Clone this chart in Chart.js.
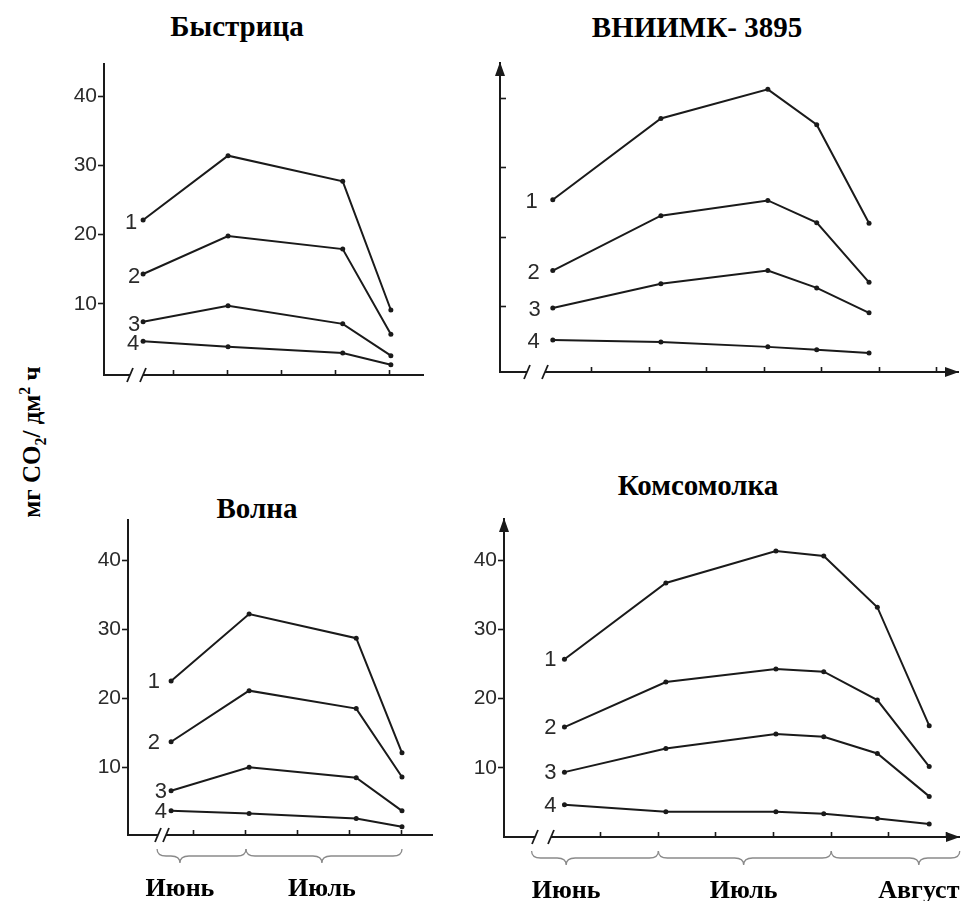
<!DOCTYPE html>
<html lang="ru">
<head>
<meta charset="utf-8">
<title>Интенсивность фотосинтеза сортов подсолнечника</title>
<script src="https://cdn.jsdelivr.net/npm/chart.js@4.4.1/dist/chart.umd.min.js"></script>
<style>
  html, body { margin: 0; padding: 0; background: #fff; }
  #page { position: relative; width: 963px; height: 901px; overflow: hidden; background: #fff; }
  #page canvas { position: absolute; left: 0; top: 0; }
  .title {
    position: absolute; white-space: nowrap; transform: translateX(-50%);
    font: bold 29px "Liberation Serif", "Times New Roman", serif; line-height: 29px; color: #000;
  }
  .ytitle {
    position: absolute; left: 33px; top: 442px; white-space: nowrap;
    transform: translate(-50%, -50%) rotate(-90deg);
    font: bold 25px "Liberation Serif", "Times New Roman", serif; color: #000;
  }
  .ytitle sub, .ytitle sup { font-size: 16px; }
</style>
</head>
<body>
<div id="page">
  <div class="title" style="left:237px; top:12px;">Быстрица</div>
  <div class="title" style="left:697px; top:13px;">ВНИИМК- 3895</div>
  <div class="title" style="left:257px; top:494px;">Волна</div>
  <div class="title" style="left:698px; top:471px;">Комсомолка</div>
  <div class="ytitle">мг CO<sub>2</sub>/ дм<sup>2</sup> ч</div>
  <canvas id="bystritsa" width="963" height="901"></canvas>
  <canvas id="vniimk" width="963" height="901"></canvas>
  <canvas id="volna" width="963" height="901"></canvas>
  <canvas id="komsomolka" width="963" height="901"></canvas>
</div>
<script>
// Сроки измерений в декадах от 1 июня (3 — начало июля, 6 — начало августа)
const bystritsaDecades = [1.44, 3.01, 5.13, 6.02];
const bystritsaCurve1 = [22.1, 31.4, 27.7, 9.1];
const bystritsaCurve2 = [14.3, 19.8, 17.9, 5.6];
const bystritsaCurve3 = [7.4, 9.7, 7.1, 2.5];
const bystritsaCurve4 = [4.6, 3.8, 2.9, 1.2];

const vniimkDecades = [1.32, 3.20, 5.06, 5.91, 6.82];
const vniimkCurve1 = [25.4, 37.1, 41.3, 36.2, 22.0];
const vniimkCurve2 = [15.2, 23.1, 25.3, 22.1, 13.5];
const vniimkCurve3 = [9.8, 13.3, 15.2, 12.7, 9.1];
const vniimkCurve4 = [5.2, 4.9, 4.2, 3.8, 3.3];

const volnaDecades = [1.56, 3.06, 5.12, 6.0];
const volnaCurve1 = [22.5, 32.2, 28.7, 12.1];
const volnaCurve2 = [13.7, 21.1, 18.5, 8.6];
const volnaCurve3 = [6.6, 10.0, 8.5, 3.7];
const volnaCurve4 = [3.7, 3.3, 2.6, 1.4];

const komsomolkaDecades = [1.37, 3.13, 5.04, 5.87, 6.80, 7.70];
const komsomolkaCurve1 = [25.7, 36.7, 41.3, 40.6, 33.2, 16.1];
const komsomolkaCurve2 = [15.9, 22.4, 24.3, 23.9, 19.8, 10.2];
const komsomolkaCurve3 = [9.4, 12.8, 14.9, 14.5, 12.1, 5.9];
const komsomolkaCurve4 = [4.7, 3.7, 3.7, 3.4, 2.7, 1.9];

const curveNames = ['1', '2', '3', '4'];
const yTickValues = [10, 20, 30, 40];
const decadeTicksJuly = [2, 3, 4, 5, 6];
const decadeTicksAugust = [2, 3, 4, 5, 6, 7, 8];

// Месяцы под осью: начало, конец и середина фигурной скобки (в декадах)
const monthNames = ['Июнь', 'Июль', 'Август'];
const volnaMonthFrom = [1.29, 3.0];
const volnaMonthTo = [3.0, 6.0];
const volnaMonthMid = [1.73, 4.46];
const komsomolkaMonthFrom = [0.80, 3.0, 6.0];
const komsomolkaMonthTo = [3.0, 6.0, 8.23];
const komsomolkaMonthMid = [1.40, 4.48, 7.52];

const PAGE_W = 963, PAGE_H = 901;
const AXIS_W = 60, AXIS_H = 20;
const INK = '#1a1a1a';

// Оформление панели: разрыв оси, стрелки, номера кривых, скобки месяцев
const panelDecor = {
  id: 'panelDecor',
  afterDraw(chart, args, o) {
    const { ctx, chartArea: a } = chart;
    const xs = chart.scales.x;
    ctx.save();

    // разрыв оси абсцисс «//»
    const b1 = a.left + o.breakAt[0], b2 = a.left + o.breakAt[1];
    ctx.fillStyle = '#fff';
    ctx.fillRect(b1, a.bottom - 2, b2 - b1, 4);
    ctx.strokeStyle = INK; ctx.lineWidth = 1.8;
    [b1, b2].forEach(bx => {
      ctx.beginPath();
      ctx.moveTo(bx - 3, a.bottom + 7);
      ctx.lineTo(bx + 3, a.bottom - 7);
      ctx.stroke();
    });

    // стрелки осей
    if (o.arrows) {
      ctx.fillStyle = INK;
      ctx.beginPath();
      ctx.moveTo(a.left, a.top - 1);
      ctx.lineTo(a.left - 5, a.top + 13);
      ctx.lineTo(a.left + 5, a.top + 13);
      ctx.closePath(); ctx.fill();
      ctx.beginPath();
      ctx.moveTo(a.right + 1, a.bottom);
      ctx.lineTo(a.right - 13, a.bottom - 5);
      ctx.lineTo(a.right - 13, a.bottom + 5);
      ctx.closePath(); ctx.fill();
    }

    // номера кривых у первых точек
    ctx.fillStyle = '#2a2a2a';
    ctx.font = '22px "Liberation Sans", Arial, sans-serif';
    ctx.textAlign = 'right';
    ctx.textBaseline = 'middle';
    chart.data.datasets.forEach((ds, i) => {
      const pt = chart.getDatasetMeta(i).data[0];
      ctx.fillText(ds.label, pt.x - o.labelGap[i], pt.y + o.labelDy);
    });

    // фигурные скобки и названия месяцев
    if (o.months) {
      const yEnd = a.bottom + 14, yLine = a.bottom + 21, yTip = a.bottom + 28;
      ctx.strokeStyle = '#8a8a8a'; ctx.lineWidth = 1.3;
      o.months.names.forEach((name, i) => {
        const x1 = xs.getPixelForValue(o.months.from[i]);
        const x2 = xs.getPixelForValue(o.months.to[i]);
        const xm = xs.getPixelForValue(o.months.mid[i]);
        const r = 9;
        ctx.beginPath();
        ctx.moveTo(x1, yEnd);
        ctx.quadraticCurveTo(x1, yLine, x1 + r, yLine);
        ctx.lineTo(xm - r, yLine);
        ctx.quadraticCurveTo(xm, yLine, xm, yTip);
        ctx.quadraticCurveTo(xm, yLine, xm + r, yLine);
        ctx.lineTo(x2 - r, yLine);
        ctx.quadraticCurveTo(x2, yLine, x2, yEnd);
        ctx.stroke();
        ctx.fillStyle = '#000';
        ctx.font = 'bold 26px "Liberation Serif", "Times New Roman", serif';
        ctx.textAlign = 'center';
        ctx.textBaseline = 'alphabetic';
        ctx.fillText(name, xm, a.bottom + 61);
      });
    }
    ctx.restore();
  }
};

function makePanel(id, p) {
  const datasets = p.curves.map((vals, i) => ({
    label: curveNames[i],
    data: vals.map((v, k) => ({ x: p.decades[k], y: v })),
    borderColor: INK,
    borderWidth: 2,
    pointRadius: 2.5,
    pointBackgroundColor: INK,
    pointBorderWidth: 0,
    tension: 0,
    fill: false
  }));
  new Chart(document.getElementById(id), {
    type: 'line',
    data: { datasets },
    options: {
      responsive: false,
      animation: false,
      devicePixelRatio: 1,
      layout: {
        padding: {
          left: p.frame.left - AXIS_W,
          right: PAGE_W - p.frame.right,
          top: p.frame.top,
          bottom: PAGE_H - p.frame.bottom - AXIS_H
        }
      },
      plugins: {
        legend: { display: false },
        tooltip: { enabled: false },
        title: { display: false },
        panelDecor: {
          breakAt: p.breakAt,
          arrows: p.arrows,
          labelGap: p.labelGap,
          labelDy: p.labelDy,
          months: p.months
        }
      },
      scales: {
        x: {
          type: 'linear',
          min: p.xMin, max: p.xMax,
          afterBuildTicks: s => { s.ticks = p.xTicks.map(v => ({ value: v })); },
          afterFit: s => { s.height = AXIS_H; },
          border: { display: true, color: INK, width: 2 },
          grid: { display: true, drawOnChartArea: false, drawTicks: true, tickLength: -5, tickColor: INK, tickWidth: 1.6, color: INK },
          ticks: { display: false }
        },
        y: {
          type: 'linear',
          min: p.yMin, max: p.yMax,
          afterBuildTicks: s => { s.ticks = yTickValues.map(v => ({ value: v })); },
          afterFit: s => { s.width = AXIS_W; },
          border: { display: true, color: INK, width: 2 },
          grid: { display: true, drawOnChartArea: false, drawTicks: true, tickLength: p.yTicksInside ? -6 : 6, tickColor: INK, tickWidth: 1.6, color: INK },
          ticks: {
            display: true,
            padding: 1,
            color: '#2b2b2b',
            font: { family: '"Liberation Sans", Arial, sans-serif', size: 21 },
            callback: v => (p.yLabels ? String(v) : '')
          }
        }
      }
    },
    plugins: [panelDecor]
  });
}

makePanel('bystritsa', {
  decades: bystritsaDecades,
  curves: [bystritsaCurve1, bystritsaCurve2, bystritsaCurve3, bystritsaCurve4],
  frame: { left: 104, top: 64, right: 423, bottom: 375 },
  xMin: 0.717, xMax: 6.614, yMin: -0.29, yMax: 44.65,
  xTicks: decadeTicksJuly,
  yLabels: true, yTicksInside: false, arrows: false,
  breakAt: [26, 39],
  labelGap: [6, 3, 3, 4], labelDy: 3
});

makePanel('vniimk', {
  decades: vniimkDecades,
  curves: [vniimkCurve1, vniimkCurve2, vniimkCurve3, vniimkCurve4],
  frame: { left: 500, top: 63, right: 958, bottom: 372 },
  xMin: 0.402, xMax: 8.367, yMin: 0.58, yMax: 45.1,
  xTicks: decadeTicksAugust,
  yLabels: false, yTicksInside: true, arrows: true,
  breakAt: [27, 45],
  labelGap: [15, 13, 12, 13], labelDy: 2
});

makePanel('volna', {
  decades: volnaDecades,
  curves: [volnaCurve1, volnaCurve2, volnaCurve3, volnaCurve4],
  frame: { left: 128, top: 520, right: 432, bottom: 835 },
  xMin: 0.731, xMax: 6.577, yMin: 0.2, yMax: 45.81,
  xTicks: decadeTicksJuly,
  yLabels: true, yTicksInside: false, arrows: false,
  breakAt: [30, 38],
  labelGap: [11, 11, 4, 4], labelDy: 1,
  months: { names: monthNames.slice(0, 2), from: volnaMonthFrom, to: volnaMonthTo, mid: volnaMonthMid }
});

makePanel('komsomolka', {
  decades: komsomolkaDecades,
  curves: [komsomolkaCurve1, komsomolkaCurve2, komsomolkaCurve3, komsomolkaCurve4],
  frame: { left: 504, top: 519, right: 962, bottom: 837 },
  xMin: 0.321, xMax: 8.217, yMin: 0.04, yMax: 45.93,
  xTicks: decadeTicksAugust,
  yLabels: true, yTicksInside: false, arrows: true,
  breakAt: [31, 47],
  labelGap: [8, 8, 8, 8], labelDy: 1,
  months: { names: monthNames, from: komsomolkaMonthFrom, to: komsomolkaMonthTo, mid: komsomolkaMonthMid }
});
</script>
</body>
</html>
